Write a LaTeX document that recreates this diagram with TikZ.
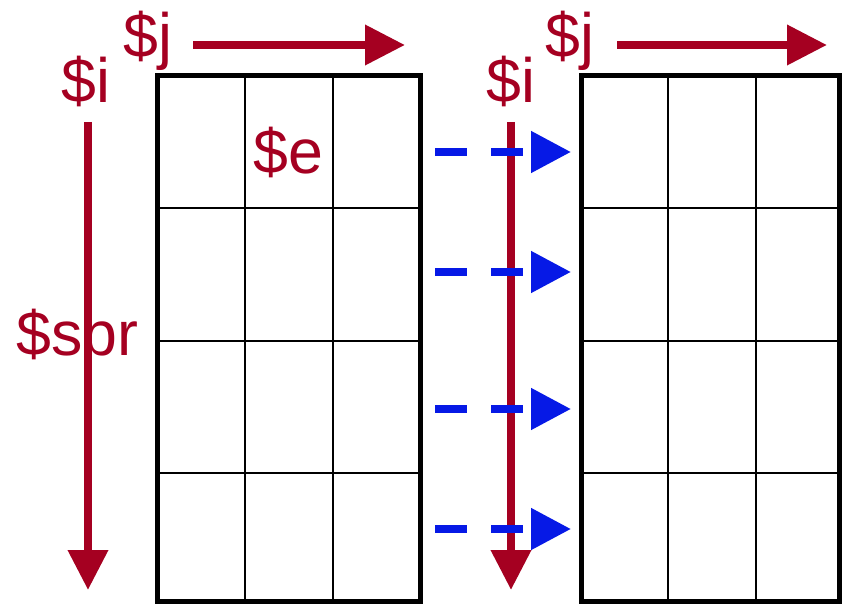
\documentclass[tikz,border=0pt]{standalone}
\usepackage{fontspec}
\setmainfont{Liberation Sans}
\usetikzlibrary{arrows.meta}
\definecolor{varred}{HTML}{A50021}
\definecolor{copyblue}{HTML}{0619E6}

\begin{document}
\begin{tikzpicture}[x=0.75pt, y=-0.75pt,
    lbl/.style={font=\fontsize{47}{52}\selectfont, color=varred, inner sep=0pt, anchor=base west},
    redarrow/.style={-{Triangle[length=30pt, width=29pt]}, line width=6pt, color=varred},
    bluearrow/.style={-{Triangle[length=30pt, width=30pt]}, line width=6pt, color=copyblue, dash pattern=on 24pt off 18pt},
    cellline/.style={line width=1.5pt},
    frame/.style={draw, line width=3.75pt, inner sep=0pt, outer sep=0pt}]
\useasboundingbox (0,0) rectangle (842,605);
% cells of both tables
\foreach \x in {245,333,668,756} \draw[cellline] (\x,76) -- (\x,601);
\foreach \y in {208,341,473} {
  \draw[cellline] (157.5,\y) -- (420,\y);
  \draw[cellline] (581,\y) -- (839,\y);
}
\node[frame, minimum width=196.9pt, minimum height=393.75pt] (src) at (288.75,338.5) {};
\node[frame, minimum width=193.5pt, minimum height=393.75pt] (dst) at (710,338.5) {};
% labels
\node[lbl] (jl) at (123,58) {\$j};
\node[lbl] (il) at (61,103) {\$i};
\node[lbl] (sbr) at (16,356) {\$sbr};
\node[lbl] (e) at (253,174) {\$e};
\node[lbl] (im) at (486,103) {\$i};
\node[lbl] (jr) at (545,58) {\$j};
% loop directions
\coordinate (jl0) at (193,45);  \coordinate (jl1) at (405,45);
\coordinate (il0) at (88,122);  \coordinate (il1) at (88,590);
\coordinate (im0) at (511,122); \coordinate (im1) at (511,590);
\coordinate (jr0) at (617,45);  \coordinate (jr1) at (827,45);
\draw[redarrow] (jl0) -- (jl1);
\draw[redarrow] (il0) -- (il1);
\draw[redarrow] (im0) -- (im1);
\draw[redarrow] (jr0) -- (jr1);
% row copies
\foreach \y [count=\k] in {152,272,409,529} {
  \coordinate (b\k) at (435,\y);
  \coordinate (t\k) at (571,\y);
  \draw[bluearrow] (b\k) -- (t\k);
}
\end{tikzpicture}
\end{document}
